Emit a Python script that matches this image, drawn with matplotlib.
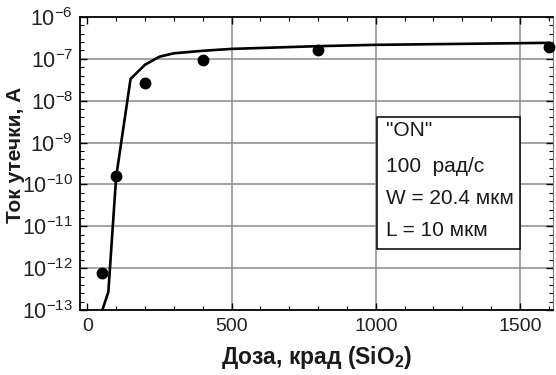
import numpy as np
import matplotlib
matplotlib.use("Agg")
import matplotlib.pyplot as plt
from matplotlib.ticker import FixedLocator, NullFormatter

plt.rcParams['font.family'] = ['Liberation Sans', 'DejaVu Sans']
plt.rcParams['mathtext.fontset'] = 'custom'
plt.rcParams['mathtext.rm'] = 'Liberation Sans'
plt.rcParams['mathtext.bf'] = 'Liberation Sans:bold'
plt.rcParams['mathtext.it'] = 'Liberation Sans'

# Measured leakage current vs. total dose
dose_meas = [50, 100, 200, 400, 800, 1600]
current_meas = [7.5e-13, 1.55e-10, 2.7e-8, 9.5e-8, 1.6e-7, 1.9e-7]

# Model curve
dose_model = [52, 73, 100, 150, 200, 250, 300, 400, 500, 800, 1000, 1600]
current_model = [1.0e-13, 2.7e-13, 1.5e-10, 3.3e-8, 7.2e-8, 1.12e-7, 1.35e-7,
                 1.55e-7, 1.72e-7, 2.0e-7, 2.15e-7, 2.4e-7]

x_ticks = [0, 500, 1000, 1500]
y_decades = list(range(-13, -5))

info_lines = ['"ON"', '100  рад/с', 'W = 20.4 мкм', 'L = 10 мкм']

fig = plt.figure(figsize=(5.56, 3.75), dpi=100)
ax = fig.add_axes([0.144, 0.173, 0.851, 0.782])
ax.set_yscale('log')
ax.set_xlim(-25, 1615)
ax.set_ylim(1e-13, 1e-6)

# grid lines
for d in y_decades[1:-1]:
    ax.axhline(10.0 ** d, color='#8c8c8c', lw=1.1, zorder=1)
for xv in x_ticks[1:]:
    ax.axvline(xv, color='#8c8c8c', lw=1.1, zorder=1)

ax.plot(dose_model, current_model, color='black', lw=1.9, zorder=3, clip_on=True)
ax.plot(dose_meas, current_meas, 'o', color='black', ms=7.5, zorder=4, clip_on=False)

ax.set_xticks(x_ticks)
ax.set_xticklabels([str(v) for v in x_ticks])
ax.xaxis.set_minor_locator(FixedLocator(np.arange(0, 1601, 100)))
ax.set_yticks([10.0 ** d for d in y_decades])
ax.set_yticklabels([r'$10^{%d}$' % d for d in y_decades])
minor_y = [10.0 ** (d + f) for d in y_decades[:-1] for f in (0.2, 0.4, 0.6, 0.8)]
ax.yaxis.set_minor_locator(FixedLocator(minor_y))
ax.yaxis.set_minor_formatter(NullFormatter())

ax.tick_params(which='both', direction='in', top=True, right=True, color='black')
ax.tick_params(which='major', length=5, width=1, pad=6)
ax.tick_params(which='minor', length=3, width=0.8)
ax.tick_params(axis='x', which='major', labelsize=14, labelcolor='#222222')
ax.tick_params(axis='y', which='major', labelsize=15.5, pad=5, labelcolor='#222222')

for s in ax.spines.values():
    s.set_linewidth(1.3)
    s.set_color('black')
ax.spines['right'].set_color('#777777')
ax.spines['right'].set_linewidth(0.8)

ax.set_xlabel(r'Доза, крад (SiO$_\mathbf{2}$)', fontsize=16.5, fontweight='bold',
              labelpad=6, color='#1a1a1a')
ax.set_ylabel('Ток утечки, А', fontsize=15, fontweight='bold', color='#1a1a1a')
ax.yaxis.set_label_coords(-0.117, 0.53)

# parameter box
bx0, by0, bx1, by1 = 377, 117, 520, 249
W, H = 556, 375
rect = plt.Rectangle((bx0 / W, 1 - by1 / H), (bx1 - bx0) / W, (by1 - by0) / H,
                     transform=fig.transFigure, facecolor='white', edgecolor='black',
                     lw=1.1, zorder=5)
fig.patches.append(rect)
ys = [130, 166, 198, 231]
for t, yy in zip(info_lines, ys):
    fig.text(386 / W, 1 - yy / H, t, fontsize=15, va='center', ha='left', zorder=6,
             color='#1a1a1a')

fig.savefig('out.png', dpi=100)
